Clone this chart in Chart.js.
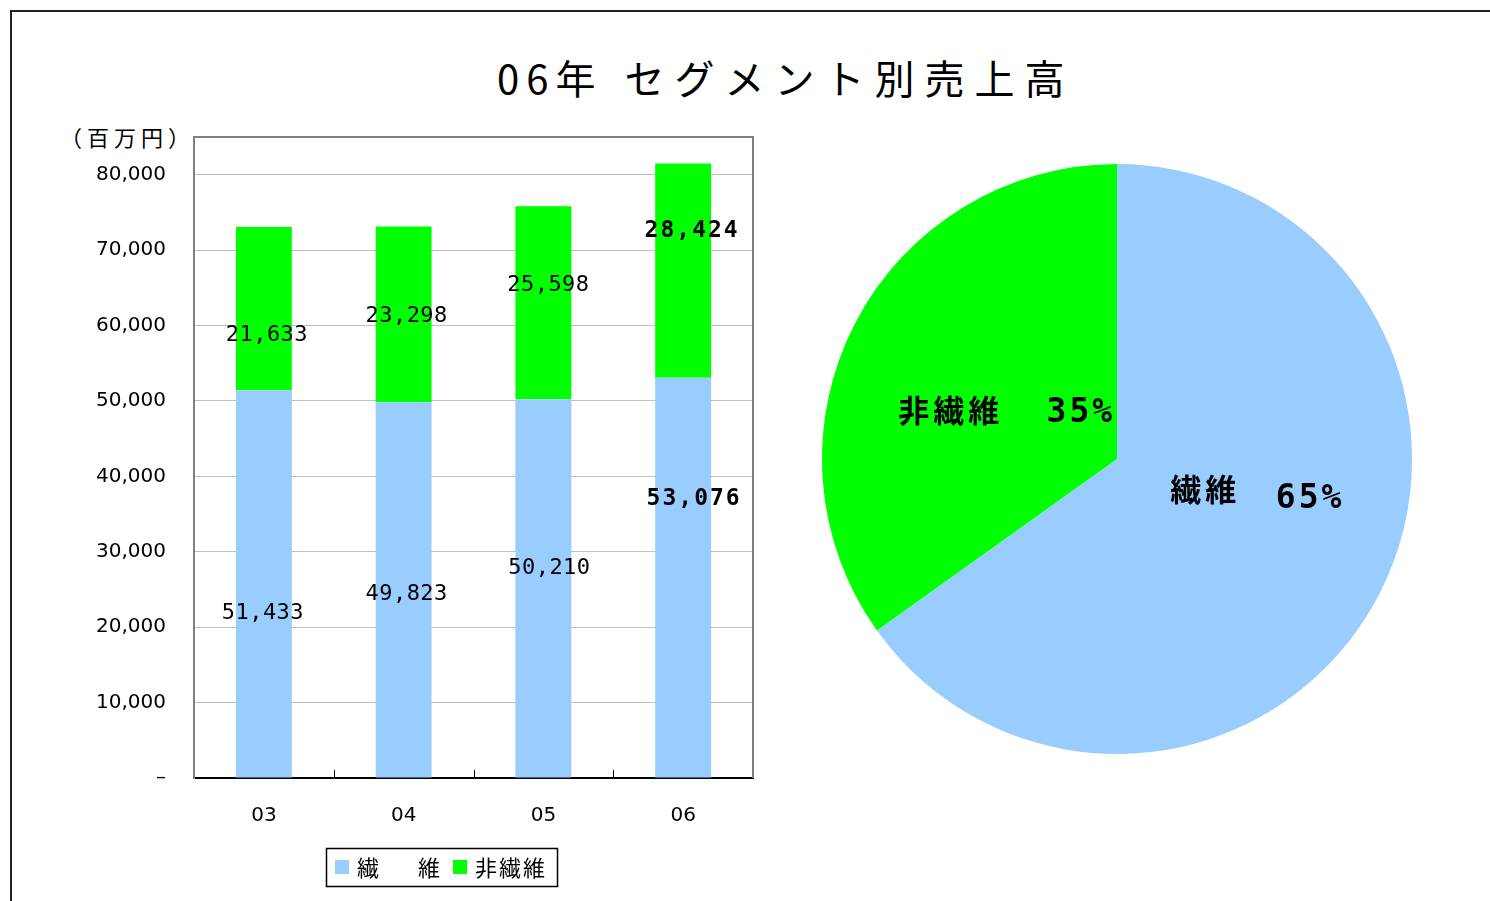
<!DOCTYPE html>
<html>
<head>
<meta charset="utf-8">
<script src="https://cdn.jsdelivr.net/npm/chart.js@4.4.0/dist/chart.umd.min.js"></script>
<style>
  body { margin: 0; background: #fff; width: 1490px; height: 901px; overflow: hidden; position: relative; }
  #frame { position: absolute; left: 10px; top: 10px; width: 1600px; height: 1000px;
           border-top: 2px solid #222; border-left: 2px solid #222; }
  #title { position: absolute; top: 52px; left: 497px; white-space: nowrap;
           font-family: "Noto Sans CJK JP", sans-serif; font-size: 40px; line-height: 50px; color: #000; }
  #title .yr { letter-spacing: 7px; }
  #title .sp { letter-spacing: 10px; margin-left: 22px; }
  #unit { position: absolute; left: 60px; top: 121px; font-family: "Noto Sans CJK JP", sans-serif;
          font-size: 22px; line-height: 30px; letter-spacing: 5px; color: #000; }
  canvas { position: absolute; }
  #bar { left: 0; top: 0; }
  #pie { left: 812px; top: 154px; }
</style>
</head>
<body>
<div id="frame"></div>
<div id="title"><span class="yr">06年</span><span class="sp">セグメント別売上高</span></div>
<div id="unit">（百万円）</div>
<canvas id="bar" width="780" height="901"></canvas>
<canvas id="pie" width="610" height="610"></canvas>
<script>
// data
const years = ['03', '04', '05', '06'];
const fiber = [51433, 49823, 50210, 53076];
const nonFiber = [21633, 23298, 25598, 28424];
const seriesNames = ['繊\u3000\u2002維', '非繊維'];
const pieNames = ['繊維', '非繊維'];
const yTickValues = [0, 10000, 20000, 30000, 40000, 50000, 60000, 70000, 80000];
const yMax = 85000;

// hand-placed label nudges (px), like the original sheet
const labelShift = [
  [[-1, 29], [3, 4], [6, -20], [11, -79]],
  [[3, 27], [3, 2], [5, -18], [9, -40]]
];

const blue = '#99CCFF';
const green = '#00FF00';
const numFont = '"DejaVu Sans Mono", monospace';
const tickFont = '"DejaVu Sans", sans-serif';
const jpFont = '"Noto Sans CJK JP", sans-serif';

Chart.defaults.animation = false;
Chart.defaults.color = '#000';

const barExtras = {
  id: 'barExtras',
  afterDatasetsDraw(chart) {
    const ctx = chart.ctx;
    const a = chart.chartArea;
    const x = chart.scales.x;
    ctx.save();
    // top / right frame
    ctx.strokeStyle = '#808080';
    ctx.lineWidth = 2;
    ctx.beginPath();
    ctx.moveTo(a.left, a.top);
    ctx.lineTo(a.right, a.top);
    ctx.lineTo(a.right, a.bottom);
    ctx.stroke();
    // inward tick marks between categories
    ctx.strokeStyle = '#000';
    ctx.lineWidth = 1;
    for (let i = 0; i < years.length - 1; i++) {
      const px = Math.round((x.getPixelForValue(i) + x.getPixelForValue(i + 1)) / 2) + 0.5;
      ctx.beginPath();
      ctx.moveTo(px, a.bottom);
      ctx.lineTo(px, a.bottom - 8);
      ctx.stroke();
    }
    // value labels
    ctx.textAlign = 'center';
    ctx.textBaseline = 'middle';
    chart.data.datasets.forEach((ds, d) => {
      chart.getDatasetMeta(d).data.forEach((bar, i) => {
        const last = i === ds.data.length - 1;
        ctx.font = last ? 'bold 23px ' + numFont : '22px ' + numFont;
        ctx.letterSpacing = last ? '2px' : '0.5px';
        const s = labelShift[d][i];
        ctx.fillText(ds.data[i].toLocaleString('en-US'), bar.x + s[0], (bar.y + bar.base) / 2 + s[1]);
      });
    });
    // legend
    ctx.letterSpacing = '2px';
    ctx.strokeStyle = '#000';
    ctx.lineWidth = 1.5;
    ctx.strokeRect(326.5, 848.5, 231, 38);
    ctx.textAlign = 'left';
    ctx.font = '22px ' + jpFont;
    const lx = [335, 453];
    chart.data.datasets.forEach((ds, d) => {
      ctx.fillStyle = ds.backgroundColor;
      ctx.fillRect(lx[d], 860, 14, 14);
      ctx.fillStyle = '#000';
      ctx.fillText(ds.label, lx[d] + 22, 868);
    });
    ctx.restore();
  }
};

new Chart(document.getElementById('bar'), {
  type: 'bar',
  data: {
    labels: years,
    datasets: [
      { label: seriesNames[0], data: fiber, backgroundColor: blue, borderWidth: 0 },
      { label: seriesNames[1], data: nonFiber, backgroundColor: green, borderWidth: 0 }
    ]
  },
  options: {
    responsive: false,
    devicePixelRatio: 1,
    layout: { padding: { left: 0, right: 27, top: 137, bottom: 0 } },
    datasets: { bar: { barPercentage: 0.4, categoryPercentage: 1 } },
    plugins: { legend: { display: false }, tooltip: { enabled: false } },
    scales: {
      x: {
        stacked: true,
        grid: { display: false, drawTicks: false },
        border: { display: true, color: '#000', width: 2 },
        ticks: { padding: 26, font: { family: tickFont, size: 20 } },
        afterFit(s) { s.height = 123; }
      },
      y: {
        stacked: true,
        min: 0,
        max: yMax,
        grid: { color: '#C0C0C0', lineWidth: 1, drawTicks: false },
        border: { display: true, color: '#808080', width: 2 },
        ticks: {
          padding: 28,
          font: { family: tickFont, size: 20 },
          callback: v => v === 0 ? '–' : v.toLocaleString('en-US')
        },
        afterBuildTicks(s) { s.ticks = yTickValues.map(v => ({ value: v })); },
        afterFit(s) { s.width = 194; }
      }
    }
  },
  plugins: [barExtras]
});

const pieLabels = {
  id: 'pieLabels',
  afterDatasetsDraw(chart) {
    const ctx = chart.ctx;
    const ds = chart.data.datasets[0];
    const total = ds.data.reduce((a, b) => a + b, 0);
    const place = [
      { name: [-43, -37], pct: [62, -27] },
      { name: [-35, 19], pct: [95, 22] }
    ];
    ctx.save();
    ctx.fillStyle = '#000';
    ctx.textAlign = 'center';
    ctx.textBaseline = 'middle';
    chart.getDatasetMeta(0).data.forEach((arc, i) => {
      const p = arc.tooltipPosition();
      const pl = place[i];
      ctx.font = 'bold 31px ' + jpFont;
      ctx.letterSpacing = '4px';
      ctx.fillText(chart.data.labels[i], p.x + pl.name[0], p.y + pl.name[1]);
      ctx.font = 'bold 33px ' + numFont;
      ctx.letterSpacing = '3px';
      ctx.fillText(Math.round(ds.data[i] / total * 100) + '%', p.x + pl.pct[0], p.y + pl.pct[1]);
    });
    ctx.restore();
  }
};

new Chart(document.getElementById('pie'), {
  type: 'pie',
  data: {
    labels: pieNames,
    datasets: [{ data: [fiber[3], nonFiber[3]], backgroundColor: [blue, green], borderWidth: 0 }]
  },
  options: {
    responsive: false,
    devicePixelRatio: 1,
    layout: { padding: 10 },
    plugins: { legend: { display: false }, tooltip: { enabled: false } }
  },
  plugins: [pieLabels]
});
</script>
</body>
</html>
